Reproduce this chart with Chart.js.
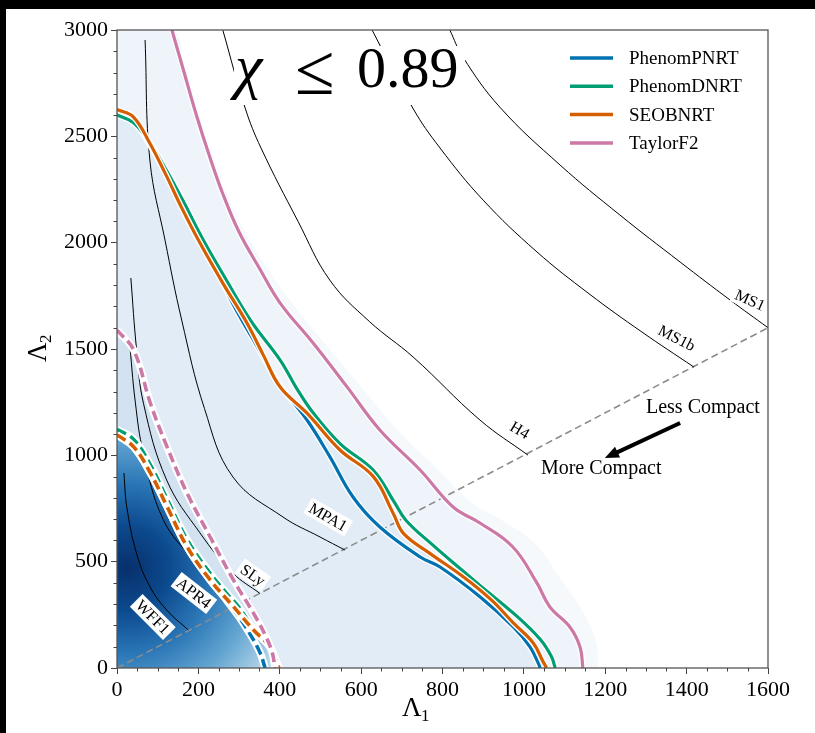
<!DOCTYPE html>
<html>
<head>
<meta charset="utf-8">
<script src="https://cdn.jsdelivr.net/npm/chart.js@4.4.0/dist/chart.umd.min.js"></script>
<style>
  html, body { margin: 0; padding: 0; background: #000; }
  #wrap { position: absolute; left: 6px; top: 9px; width: 809px; height: 724px; background: #fff; }
</style>
</head>
<body>
<div id="wrap"><canvas id="chart" width="809" height="724"></canvas></div>
<script>
// axis ticks
const xTicks = [0, 200, 400, 600, 800, 1000, 1200, 1400, 1600];
const yTicks = [0, 500, 1000, 1500, 2000, 2500, 3000];

// waveform models (legend)
const seriesNames = ['PhenomPNRT', 'PhenomDNRT', 'SEOBNRT', 'TaylorF2'];
const seriesColors = ['#0072B2', '#009E73', '#D55E00', '#CC79A7'];

// 90% upper bounds (solid)
const phenomPSolid = [[0,2610],[40,2572],[80,2462],[120,2325],[160,2172],[205,2005],[250,1850],[285,1712],[330,1560],[401,1330],[467,1166],[523,994],[580,804],[646,663],[745,522],[794,475],[892,335],[974,193],[1015,99],[1035,24],[1040,0]];
const phenomDSolid = [[0,2600],[40,2565],[80,2472],[120,2345],[160,2205],[210,2020],[270,1820],[330,1630],[401,1448],[440,1320],[480,1205],[548,1055],[630,930],[680,785],[710,695],[775,580],[851,455],[892,388],[982,245],[1040,135],[1068,53],[1077,0]];
const seobSolid = [[0,2626],[40,2592],[80,2470],[120,2320],[160,2160],[204,1998],[260,1810],[320,1620],[360,1470],[401,1321],[467,1198],[548,1025],[630,900],[679,727],[704,633],[769,539],[851,429],[920,320],[974,212],[1023,118],[1047,30],[1056,0]];
const taylorSolid = [[135,3000],[165,2800],[195,2600],[225,2420],[260,2230],[300,2050],[350,1880],[401,1716],[482,1528],[565,1323],[646,1119],[745,931],[826,757],[892,682],[973,569],[1032,400],[1064,287],[1113,193],[1138,99],[1145,0]];

// 50% bounds (dashed)
const phenomPDash = [[0,1098],[41,1040],[82,917],[123,759],[172,571],[229,414],[268,322],[300,240],[330,150],[352,70],[364,0]];
const phenomDDash = [[0,1122],[41,1075],[82,955],[123,795],[172,605],[229,445],[270,350],[300,285],[335,185],[376,99],[393,24],[398,0]];
const seobDash = [[0,1096],[41,1040],[82,917],[123,759],[172,571],[229,414],[286,289],[335,180],[376,99],[393,24],[398,0]];
const taylorDash = [[0,1589],[41,1495],[82,1245],[123,1040],[172,823],[229,616],[286,414],[335,259],[366,148],[382,69],[388,0]];

// equations of state
const eosNames = ['WFF1', 'APR4', 'SLy', 'MPA1', 'H4', 'MS1b', 'MS1'];
const wff1 = [[17,917],[24,758],[48,539],[81,382],[122,273],[175,179]];
const apr4 = [[30,1552],[45,1250],[65,1009],[114,696],[188,508],[253,367],[294,296]];
const sly = [[34,1834],[48,1500],[65,1245],[122,884],[204,635],[285,446],[351,351]];
const mpa1 = [[69,2953],[81,2384],[118,2012],[159,1636],[215,1220],[285,898],[408,710],[499,616],[560,555]];
const h4 = [[260,3000],[315,2633],[354,2445],[445,2100],[523,1824],[620,1630],[728,1462],[892,1166],[1010,1001]];
const ms1b = [[627,3000],[727,2633],[794,2445],[900,2200],[1030,1960],[1160,1760],[1290,1580],[1418,1415]];
const ms1 = [[818,3000],[850,2873],[941,2637],[1089,2365],[1236,2130],[1384,1909],[1507,1730],[1600,1600]];
const eosLabelAt = [[88,240],[189,353],[334,437],[519,710],[990,1119],[1376,1552],[1556,1730]];
const eosLabelAngle = [45, 38, 35, 30, 31, 27, 24];

// equal-mass line and posterior shading
const diagonal = [[0,0],[1600,1600]];
const hazeEdge = [[0,3000],[136,3000],[168,2800],[200,2600],[232,2420],[270,2230],[315,2050],[370,1880],[430,1716],[510,1528],[600,1323],[690,1119],[790,931],[870,780],[950,690],[1030,580],[1090,420],[1140,280],[1175,140],[1185,0]];
const coreCenter = [25, 470];

const pts = arr => arr.map(([x, y]) => ({ x, y }));
const serif = '"Liberation Serif", "DejaVu Serif", serif';

const layers = [];
const fillLayer = (data, color) => layers.push({ data: pts(data), borderWidth: 0, fill: 'origin', backgroundColor: color });
const line = (data, color, width, dash) => layers.push({ data: pts(data), borderColor: color, borderWidth: width, borderDash: dash || [], fill: false });

fillLayer(hazeEdge, '#f6f9fc');
fillLayer([[0,3000]].concat(taylorSolid), '#eef4fa');
fillLayer(seobSolid, '#e2ecf6');
fillLayer(taylorDash, '#d2e2f1');
layers.push({
  data: pts(seobDash), borderWidth: 0, fill: 'origin',
  backgroundColor: (c) => {
    const ch = c.chart;
    if (!ch.chartArea || !ch.scales.x) return '#4a90c4';
    const cx = ch.scales.x.getPixelForValue(coreCenter[0]);
    const cy = ch.scales.y.getPixelForValue(coreCenter[1]);
    const g = ch.ctx.createRadialGradient(cx, cy, 0, cx, cy, 170);
    g.addColorStop(0, '#08306b');
    g.addColorStop(0.25, '#0c4a8e');
    g.addColorStop(0.5, '#2a76b6');
    g.addColorStop(0.75, '#62a5d1');
    g.addColorStop(1, '#b8d6ea');
    return g;
  }
});

line(diagonal, '#8c8c8c', 1.6, [7, 4]);
[wff1, apr4, sly, mpa1, h4, ms1b, ms1].forEach(e => line(e, '#000', 1));

[phenomPSolid, phenomDSolid, seobSolid, taylorSolid].forEach((d, i) => {
  line(d, '#ffffff', 6);
  line(d, seriesColors[i], 3.2);
});
[phenomPDash, phenomDDash, seobDash, taylorDash].forEach((d, i) => {
  line(d, '#ffffff', 7.5);
  line(d, seriesColors[i], 3.6, [10, 5]);
});

const datasets = layers.map((d, i) => Object.assign({
  pointRadius: 0, tension: 0.4, borderJoinStyle: 'round', borderCapStyle: 'butt', order: layers.length - i
}, d));

function boxLabel(ctx, text, px, py, ang) {
  ctx.save();
  ctx.translate(px, py);
  ctx.rotate(ang * Math.PI / 180);
  ctx.font = '16px ' + serif;
  const w = ctx.measureText(text).width;
  ctx.fillStyle = '#fff';
  ctx.fillRect(-w / 2 - 3, -9, w + 6, 18);
  ctx.fillStyle = '#000';
  ctx.textAlign = 'center';
  ctx.textBaseline = 'middle';
  ctx.fillText(text, 0, 1);
  ctx.restore();
}

const decor = {
  id: 'decor',
  afterDatasetsDraw(chart) {
    const { ctx, chartArea: a, scales: { x, y } } = chart;
    ctx.save();

    // EOS labels
    eosNames.forEach((n, i) => {
      boxLabel(ctx, n, x.getPixelForValue(eosLabelAt[i][0]), y.getPixelForValue(eosLabelAt[i][1]), eosLabelAngle[i]);
    });

    // title
    ctx.fillStyle = '#fff';
    ctx.fillRect(a.left + 117, a.top + 16, 231, 59);
    ctx.fillStyle = '#000';
    ctx.textBaseline = 'alphabetic';
    ctx.textAlign = 'left';
    ctx.font = 'italic 62px "Liberation Serif"';
    ctx.fillText('χ', a.left + 118, a.top + 57);
    ctx.font = '72px "Liberation Serif"';
    ctx.fillText('≤', a.left + 178, a.top + 64);
    ctx.font = '58px "Liberation Serif"';
    ctx.fillText('0.89', a.left + 240, a.top + 57);

    // arrow
    const x0 = x.getPixelForValue(1384), y0 = y.getPixelForValue(1152);
    const x1 = x.getPixelForValue(1199), y1 = y.getPixelForValue(987);
    const ang = Math.atan2(y1 - y0, x1 - x0);
    ctx.strokeStyle = '#000';
    ctx.lineWidth = 4;
    ctx.beginPath();
    ctx.moveTo(x0, y0);
    ctx.lineTo(x1 - 10 * Math.cos(ang), y1 - 10 * Math.sin(ang));
    ctx.stroke();
    ctx.beginPath();
    ctx.moveTo(x1, y1);
    ctx.lineTo(x1 - 14 * Math.cos(ang) + 6 * Math.sin(ang), y1 - 14 * Math.sin(ang) - 6 * Math.cos(ang));
    ctx.lineTo(x1 - 14 * Math.cos(ang) - 6 * Math.sin(ang), y1 - 14 * Math.sin(ang) + 6 * Math.cos(ang));
    ctx.closePath();
    ctx.fillStyle = '#000';
    ctx.fill();
    ctx.font = '20px ' + serif;
    ctx.textAlign = 'center';
    ctx.textBaseline = 'middle';
    ctx.fillText('Less Compact', x.getPixelForValue(1440), y.getPixelForValue(1222));
    ctx.fillText('More Compact', x.getPixelForValue(1190), y.getPixelForValue(936));

    // legend
    ctx.font = '19px ' + serif;
    ctx.textAlign = 'left';
    seriesNames.forEach((n, i) => {
      const ly = a.top + 28 + i * 28.3;
      ctx.strokeStyle = seriesColors[i];
      ctx.lineWidth = 3.5;
      ctx.beginPath();
      ctx.moveTo(a.right - 198, ly);
      ctx.lineTo(a.right - 155, ly);
      ctx.stroke();
      ctx.fillStyle = '#000';
      ctx.fillText(n, a.right - 139, ly + 1);
    });

    // frame
    ctx.strokeStyle = '#555';
    ctx.lineWidth = 1.3;
    ctx.strokeRect(a.left, a.top, a.right - a.left, a.bottom - a.top);

    // minor ticks
    ctx.lineWidth = 1;
    ctx.strokeStyle = '#444';
    ctx.beginPath();
    for (let v = 0; v <= 1600; v += 50) {
      if (v % 200 === 0) continue;
      const px = Math.round(x.getPixelForValue(v)) + 0.5;
      ctx.moveTo(px, a.bottom); ctx.lineTo(px, a.bottom + 3.5);
    }
    for (let v = 0; v <= 3000; v += 100) {
      if (v % 500 === 0) continue;
      const py = Math.round(y.getPixelForValue(v)) + 0.5;
      ctx.moveTo(a.left, py); ctx.lineTo(a.left - 3.5, py);
    }
    ctx.stroke();

    // axis titles
    ctx.fillStyle = '#000';
    ctx.textAlign = 'left';
    ctx.textBaseline = 'alphabetic';
    ctx.font = '27px ' + serif;
    ctx.fillText('Λ', a.left + 285, a.bottom + 48);
    ctx.font = '17px ' + serif;
    ctx.fillText('1', a.left + 304, a.bottom + 53);
    ctx.save();
    ctx.translate(a.left - 71, a.top + 322);
    ctx.rotate(-Math.PI / 2);
    ctx.font = '27px ' + serif;
    ctx.fillText('Λ', -10, 0);
    ctx.font = '17px ' + serif;
    ctx.fillText('2', 9, 5);
    ctx.restore();

    ctx.restore();
  }
};

new Chart(document.getElementById('chart'), {
  type: 'line',
  data: { datasets },
  options: {
    responsive: false,
    animation: false,
    events: [],
    layout: { padding: { top: 21, right: 47, left: 0, bottom: 0 } },
    plugins: { legend: { display: false }, tooltip: { enabled: false } },
    scales: {
      x: {
        type: 'linear', min: 0, max: 1600,
        afterBuildTicks: s => { s.ticks = xTicks.map(v => ({ value: v })); },
        afterFit: s => { s.height = 65; },
        ticks: { color: '#000', font: { family: serif, size: 22 }, padding: 3, maxRotation: 0, autoSkip: false, callback: v => String(v) },
        grid: { drawOnChartArea: false, tickLength: 6, color: '#444' },
        border: { display: false }
      },
      y: {
        type: 'linear', min: 0, max: 3000,
        afterBuildTicks: s => { s.ticks = yTicks.map(v => ({ value: v })); },
        afterFit: s => { s.width = 111; },
        ticks: { color: '#000', font: { family: serif, size: 22 }, padding: 3, autoSkip: false, callback: v => String(v) },
        grid: { drawOnChartArea: false, tickLength: 6, color: '#444' },
        border: { display: false }
      }
    }
  },
  plugins: [decor]
});
</script>
</body>
</html>
